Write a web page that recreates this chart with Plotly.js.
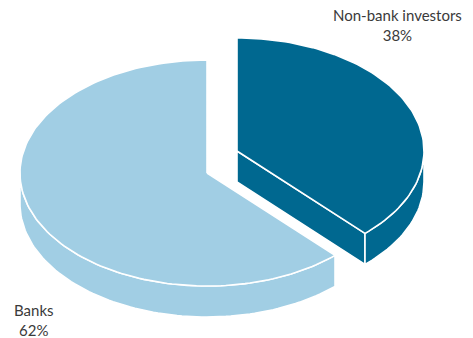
<!DOCTYPE html>
<html>
<head>
<meta charset="utf-8">
<script src="https://cdn.plot.ly/plotly-3.0.1.min.js"></script>
<style>html,body{margin:0;padding:0;background:#fff;}#chart{width:473px;height:338px;}</style>
</head>
<body>
<div id="chart"></div>
<script>
// ---- data ----
const categories = ["Non-bank investors", "Banks"];
const shares = [38, 62];
const exploded = [true, false];

// ---- style / geometry ----
const topColors = ["#006890", "#A1CEE4"];
const sideColors = ["#006890", "#A1CEE4"];
const CX = 207, CY = 173, RX = 187, RY = 113, DEPTH = 31;
const EXPLODE_DX = 30, EXPLODE_DY = -22; // pixel offset of exploded slice
const START = 90; // degrees, 12 o'clock, clockwise

const rad = d => d * Math.PI / 180;
function pt(t, ox, oy, dz) {
  return [CX + ox + RX * Math.cos(rad(t)), CY + oy - RY * Math.sin(rad(t)) + (dz || 0)];
}
function arc(a, b, ox, oy, dz) {
  const n = Math.max(2, Math.ceil(Math.abs(b - a) / 1.5));
  const out = [];
  for (let i = 0; i <= n; i++) out.push(pt(a + (b - a) * i / n, ox, oy, dz));
  return out;
}
function poly(points, color, name, pct) {
  return {
    type: "scatter", mode: "lines", fill: "toself",
    x: points.map(p => p[0]), y: points.map(p => p[1]),
    fillcolor: color, line: {color: "#ffffff", width: 1.6},
    hoverinfo: "text", text: name + ": " + pct + "%", showlegend: false
  };
}

const total = shares.reduce((a, b) => a + b, 0);
let cum = 0;
const slices = categories.map((c, i) => {
  const a0 = START - cum / total * 360;
  const a1 = a0 - shares[i] / total * 360;
  cum += shares[i];
  return {i, name: c, pct: shares[i], a0, a1,
          ox: exploded[i] ? EXPLODE_DX : 0, oy: exploded[i] ? EXPLODE_DY : 0};
});
slices.sort((s, t) => s.oy - t.oy);

const traces = [];
slices.forEach(s => {
  const apexTop = [CX + s.ox, CY + s.oy];
  const apexBot = [CX + s.ox, CY + s.oy + DEPTH];
  // cut faces
  [[s.a0, s.a0 + 90], [s.a1, s.a1 - 90]].forEach(([th, nrm]) => {
    if (Math.sin(rad(nrm)) < -1e-6) {
      const p = pt(th, s.ox, s.oy), q = pt(th, s.ox, s.oy, DEPTH);
      traces.push(poly([apexTop, p, q, apexBot, apexTop], sideColors[s.i], s.name, s.pct));
    }
  });
  // outer wall (front half only)
  const lo = s.a1, hi = s.a0;
  for (let k = -1; k <= 1; k++) {
    const a = Math.max(lo, -180 + 360 * k), b = Math.min(hi, 360 * k);
    if (b > a) {
      const topArc = arc(a, b, s.ox, s.oy, 0);
      const botArc = arc(b, a, s.ox, s.oy, DEPTH);
      const pts = topArc.concat(botArc);
      pts.push(topArc[0]);
      traces.push(poly(pts, sideColors[s.i], s.name, s.pct));
    }
  }
  // top face
  const top = [apexTop].concat(arc(s.a0, s.a1, s.ox, s.oy, 0));
  top.push(apexTop);
  traces.push(poly(top, topColors[s.i], s.name, s.pct));
});

const labelPos = {"Non-bank investors": [397, 25], "Banks": [34, 320]};
const annotations = categories.map((c, i) => ({
  x: labelPos[c][0], y: labelPos[c][1], xref: "x", yref: "y",
  text: c + "<br>" + shares[i] + "%", showarrow: false,
  xanchor: "center", yanchor: "middle", align: "center",
  font: {family: "Lato, 'Open Sans', sans-serif", size: 15, color: "#3a3a3a"}
}));

const layout = {
  width: 473, height: 338,
  margin: {l: 0, r: 0, t: 0, b: 0},
  paper_bgcolor: "#ffffff", plot_bgcolor: "#ffffff",
  xaxis: {range: [0, 473], visible: false, fixedrange: true},
  yaxis: {range: [338, 0], visible: false, fixedrange: true},
  annotations, showlegend: false
};
Plotly.newPlot("chart", traces, layout, {displayModeBar: false});
</script>
</body>
</html>
